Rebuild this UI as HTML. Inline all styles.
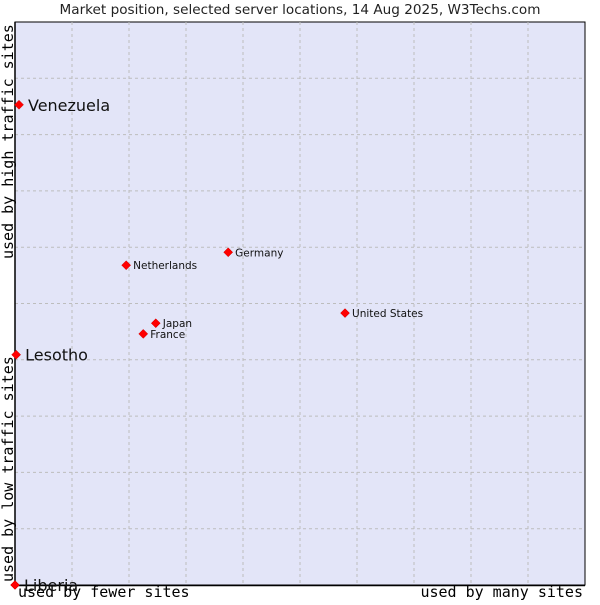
<!DOCTYPE html>
<html><head><meta charset="utf-8"><style>
body{margin:0;background:#fff;width:600px;height:600px;overflow:hidden}
</style></head><body>
<svg id="chart" width="600" height="600" xmlns="http://www.w3.org/2000/svg">
<text x="300" y="14" text-anchor="middle" font-family="DejaVu Sans, sans-serif" font-size="13.6" fill="#222">Market position, selected server locations, 14 Aug 2025, W3Techs.com</text>
<rect x="15" y="22" width="570" height="563" fill="#e3e5f8" stroke="#000" stroke-width="1"/>
<g id="grid"></g>
<line x1="15" y1="22" x2="15" y2="586" stroke="#000" stroke-width="1.5"/>
<line x1="14" y1="585.5" x2="585" y2="585.5" stroke="#000" stroke-width="1.5"/>
<text x="18" y="597" font-family="DejaVu Sans Mono, monospace" font-size="15" fill="#000">used by fewer sites</text>
<text x="583" y="597" text-anchor="end" font-family="DejaVu Sans Mono, monospace" font-size="15" fill="#000">used by many sites</text>
<text transform="translate(13,582) rotate(-90)" font-family="DejaVu Sans Mono, monospace" font-size="15" fill="#000">used by low traffic sites</text>
<text transform="translate(13,259) rotate(-90)" font-family="DejaVu Sans Mono, monospace" font-size="15" fill="#000">used by high traffic sites</text>
<g id="points"></g>
</svg>
<script>
const names = ["Venezuela","Lesotho","Liberia","Netherlands","Germany","Japan","France","United States"];
const xVals = [0.7, 0.2, 0, 19.5, 37.4, 24.7, 22.5, 57.9];
const yVals = [85.3, 40.9, 0, 56.8, 59.1, 46.5, 44.6, 48.3];
const big = [true, true, true, false, false, false, false, false];
const X0=15, X1=585, Y0=585, Y1=22;
const sx = v => X0 + v/100*(X1-X0);
const sy = v => Y0 - v/100*(Y0-Y1);
const NS="http://www.w3.org/2000/svg";
const grid=document.getElementById('grid');
for(let i=1;i<10;i++){
  const l=document.createElementNS(NS,'line');
  
  
  const x=sx(i*10);
  l.setAttribute('x1',x);l.setAttribute('x2',x);l.setAttribute('y1',Y1);l.setAttribute('y2',Y0);
  l.setAttribute('stroke','#bdbdbd');l.setAttribute('stroke-dasharray','3,3');
  grid.appendChild(l);
  const h=document.createElementNS(NS,'line');
  
  
  const y=sy(i*10);
  h.setAttribute('x1',X0);h.setAttribute('x2',X1);h.setAttribute('y1',y);h.setAttribute('y2',y);
  h.setAttribute('stroke','#bdbdbd');h.setAttribute('stroke-dasharray','3,3');
  grid.appendChild(h);
}
const pts=document.getElementById('points');
names.forEach((n,i)=>{
  const x=sx(xVals[i]), y=sy(yVals[i]);
  const d=document.createElementNS(NS,'path');
  
  
  d.setAttribute('d',`M${x-4.5},${y} L${x},${y-4.5} L${x+4.5},${y} L${x},${y+4.5} Z`);
  d.setAttribute('fill','#f00');d.setAttribute('stroke','#c00');d.setAttribute('stroke-width','0.5');
  pts.appendChild(d);
  const t=document.createElementNS(NS,'text');
  
  
  t.setAttribute('x',x+(big[i]?9:7));
  t.setAttribute('y',y+(big[i]?6:4));
  t.setAttribute('font-family','DejaVu Sans, sans-serif');
  t.setAttribute('font-size',big[i]?'16':'10.5');
  t.setAttribute('fill','#111');
  t.textContent=n;
  pts.appendChild(t);
});
</script>
</body></html>
